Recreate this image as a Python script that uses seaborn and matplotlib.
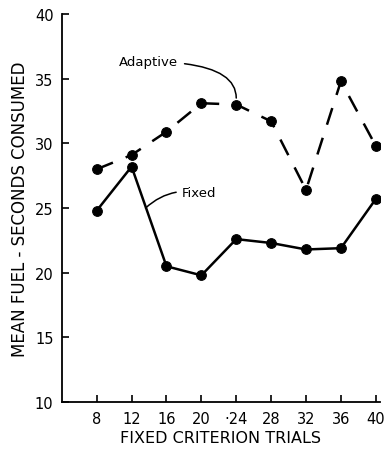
import matplotlib
matplotlib.use("Agg")
import matplotlib.pyplot as plt
import pandas as pd
import seaborn as sns

trials = [8, 12, 16, 20, 24, 28, 32, 36, 40]
tick_labels = ["8", "12", "16", "20", "·24", "28", "32", "36", "40"]
adaptive = [28.0, 29.1, 30.9, 33.1, 33.0, 31.7, 26.4, 34.8, 29.8]
fixed = [24.8, 28.2, 20.5, 19.8, 22.6, 22.3, 21.8, 21.9, 25.7]

sns.set_theme(style="white")
plt.rcParams["font.family"] = ["DejaVu Sans"]
plt.rcParams["text.color"] = "black"
plt.rcParams["axes.labelcolor"] = "black"

df = pd.DataFrame({"trials": trials, "adaptive": adaptive, "fixed": fixed})

fig = plt.figure(figsize=(3.84, 4.52), dpi=100)
ax = fig.add_axes([0.161, 0.108, 0.829, 0.859])

sns.lineplot(data=df, x="trials", y="adaptive", ax=ax, color="black", linewidth=1.8,
             marker="o", markersize=7, markeredgecolor="black")
ax.lines[-1].set_dashes([7, 5.5])
sns.lineplot(data=df, x="trials", y="fixed", ax=ax, color="black", linewidth=1.8,
             marker="o", markersize=7, markeredgecolor="black")

ax.set_xlim(4, 40.5)
ax.set_ylim(10, 40)
ax.set_xticks(trials)
ax.set_xticklabels(tick_labels)
ax.set_yticks([10, 15, 20, 25, 30, 35, 40])
ax.set_yticklabels(["10", "15", "20", "25", "30", "35", "40"])
ax.tick_params(bottom=True, left=True, direction="in", length=5, width=1.2,
               colors="black", labelsize=10.5, pad=6)
ax.set_xlabel("FIXED CRITERION TRIALS", fontsize=11.5, labelpad=3)
ax.set_ylabel("MEAN FUEL - SECONDS CONSUMED", fontsize=12, labelpad=4)

for side in ["top", "right"]:
    ax.spines[side].set_visible(False)
for side in ["left", "bottom"]:
    ax.spines[side].set_color("black")
    ax.spines[side].set_linewidth(1.3)

ax.annotate("Adaptive", xy=(24, 33.5), xytext=(10.6, 36.3), fontsize=9.5,
            ha="left", va="center",
            arrowprops=dict(arrowstyle="-", color="black", lw=1.1,
                            connectionstyle="angle3,angleA=0,angleB=90",
                            shrinkA=2, shrinkB=0))
ax.annotate("Fixed", xy=(13.6, 25.0), xytext=(17.8, 26.2), fontsize=9.5,
            ha="left", va="center",
            arrowprops=dict(arrowstyle="-", color="black", lw=1.1,
                            connectionstyle="arc3,rad=0.25",
                            shrinkA=2, shrinkB=0))

fig.savefig("out.png", dpi=100)
